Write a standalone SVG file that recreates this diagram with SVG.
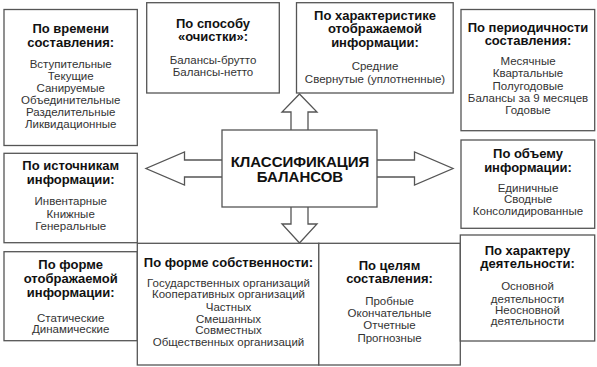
<svg xmlns="http://www.w3.org/2000/svg" width="597" height="367" viewBox="0 0 597 367">
<style>
rect{fill:#fff;stroke:#555;stroke-width:1.3}
.arr{fill:#fff;stroke:#555;stroke-width:1.3;stroke-linejoin:miter}
text{font-family:"Liberation Sans",Arial,sans-serif;text-anchor:middle}
.h{font-size:13px;font-weight:bold;fill:#111}
.t{font-size:15px;font-weight:bold;fill:#111}
.b{font-size:11.5px;fill:#333}
</style>
<rect x="0" y="0" width="597" height="367" style="fill:#fff;stroke:none"/>
<g id="connectors">
<path class="arr" d="M291,130 V112 H282 L299.5,94 L317,112 H308 V130"/>
<path class="arr" d="M291,207 V224 H282 L299.5,243 L317,224 H308 V207"/>
<path class="arr" d="M222,160 H184.5 V152 L146,168.5 L184.5,185 V177 H222"/>
<path class="arr" d="M377,160 H414.5 V152 L453,168.5 L414.5,185 V177 H377"/>
</g>
<g id="center">
<rect x="222" y="130" width="155" height="77"/>
<text class="t" x="300" y="166.5">КЛАССИФИКАЦИЯ</text>
<text class="t" x="300" y="181.5">БАЛАНСОВ</text>
</g>
<g id="n-time">
<rect x="4" y="9.5" width="133.3" height="136"/>
<text class="h" x="70.7" y="33.3">По времени</text>
<text class="h" x="70.7" y="46.7">составления:</text>
<text class="b" x="70.7" y="67.5">Вступительные</text>
<text class="b" x="70.7" y="79.5">Текущие</text>
<text class="b" x="70.7" y="91.5">Санируемые</text>
<text class="b" x="70.7" y="103.5">Объединительные</text>
<text class="b" x="70.7" y="115.5">Разделительные</text>
<text class="b" x="70.7" y="127.5">Ликвидационные</text>
</g>
<g id="n-clean">
<rect x="146.7" y="2.7" width="132.6" height="90.3"/>
<text class="h" x="213" y="28.3">По способу</text>
<text class="h" x="213" y="40.7">«очистки»:</text>
<text class="b" x="213" y="64.3">Балансы-брутто</text>
<text class="b" x="213" y="75.5">Балансы-нетто</text>
</g>
<g id="n-char">
<rect x="296.5" y="2.7" width="156.7" height="90.3"/>
<text class="h" x="375" y="20">По характеристике</text>
<text class="h" x="375" y="33.3">отображаемой</text>
<text class="h" x="375" y="46.7">информации:</text>
<text class="b" x="375" y="70">Средние</text>
<text class="b" x="375" y="83">Свернутые (уплотненные)</text>
</g>
<g id="n-period">
<rect x="461" y="9.5" width="133.7" height="121.2"/>
<text class="h" x="528" y="31.7">По периодичности</text>
<text class="h" x="528" y="45">составления:</text>
<text class="b" x="528" y="65">Месячные</text>
<text class="b" x="528" y="77.3">Квартальные</text>
<text class="b" x="528" y="89.6">Полугодовые</text>
<text class="b" x="528" y="101.7">Балансы за 9 месяцев</text>
<text class="b" x="528" y="114">Годовые</text>
</g>
<g id="n-source">
<rect x="4" y="153.3" width="133.3" height="89.4"/>
<text class="h" x="70.7" y="170">По источникам</text>
<text class="h" x="70.7" y="184">информации:</text>
<text class="b" x="70.7" y="205">Инвентарные</text>
<text class="b" x="70.7" y="217.5">Книжные</text>
<text class="b" x="70.7" y="230">Генеральные</text>
</g>
<g id="n-volume">
<rect x="461" y="140" width="133.7" height="88.3"/>
<text class="h" x="528" y="158.3">По объему</text>
<text class="h" x="528" y="171.7">информации:</text>
<text class="b" x="528" y="191.7">Единичные</text>
<text class="b" x="528" y="203.3">Сводные</text>
<text class="b" x="528" y="215">Консолидированные</text>
</g>
<g id="n-form">
<rect x="4" y="251.7" width="133.3" height="89"/>
<text class="h" x="70.7" y="269.3">По форме</text>
<text class="h" x="70.7" y="283.3">отображаемой</text>
<text class="h" x="70.7" y="296.7">информации:</text>
<text class="b" x="70.7" y="321.7">Статические</text>
<text class="b" x="70.7" y="333.3">Динамические</text>
</g>
<g id="n-own">
<rect x="137.3" y="243.3" width="181.5" height="121.7"/>
<text class="h" x="228.5" y="266.7">По форме собственности:</text>
<text class="b" x="228.5" y="286.7">Государственных организаций</text>
<text class="b" x="228.5" y="298.3">Кооперативных организаций</text>
<text class="b" x="228.5" y="310.7">Частных</text>
<text class="b" x="228.5" y="322.7">Смешанных</text>
<text class="b" x="228.5" y="334.3">Совместных</text>
<text class="b" x="228.5" y="346">Общественных организаций</text>
</g>
<g id="n-goal">
<rect x="318.8" y="243.3" width="141.5" height="121.7"/>
<text class="h" x="389.5" y="270">По целям</text>
<text class="h" x="389.5" y="283.3">составления:</text>
<text class="b" x="389.5" y="305">Пробные</text>
<text class="b" x="389.5" y="317.3">Окончательные</text>
<text class="b" x="389.5" y="329.3">Отчетные</text>
<text class="b" x="389.5" y="341.7">Прогнозные</text>
</g>
<g id="n-activity">
<rect x="460.3" y="235" width="134.4" height="106"/>
<text class="h" x="527.5" y="255">По характеру</text>
<text class="h" x="527.5" y="268.3">деятельности:</text>
<text class="b" x="527.5" y="290">Основной</text>
<text class="b" x="527.5" y="302.5">деятельности</text>
<text class="b" x="527.5" y="313.5">Неосновной</text>
<text class="b" x="527.5" y="325">деятельности</text>
</g>
</svg>
